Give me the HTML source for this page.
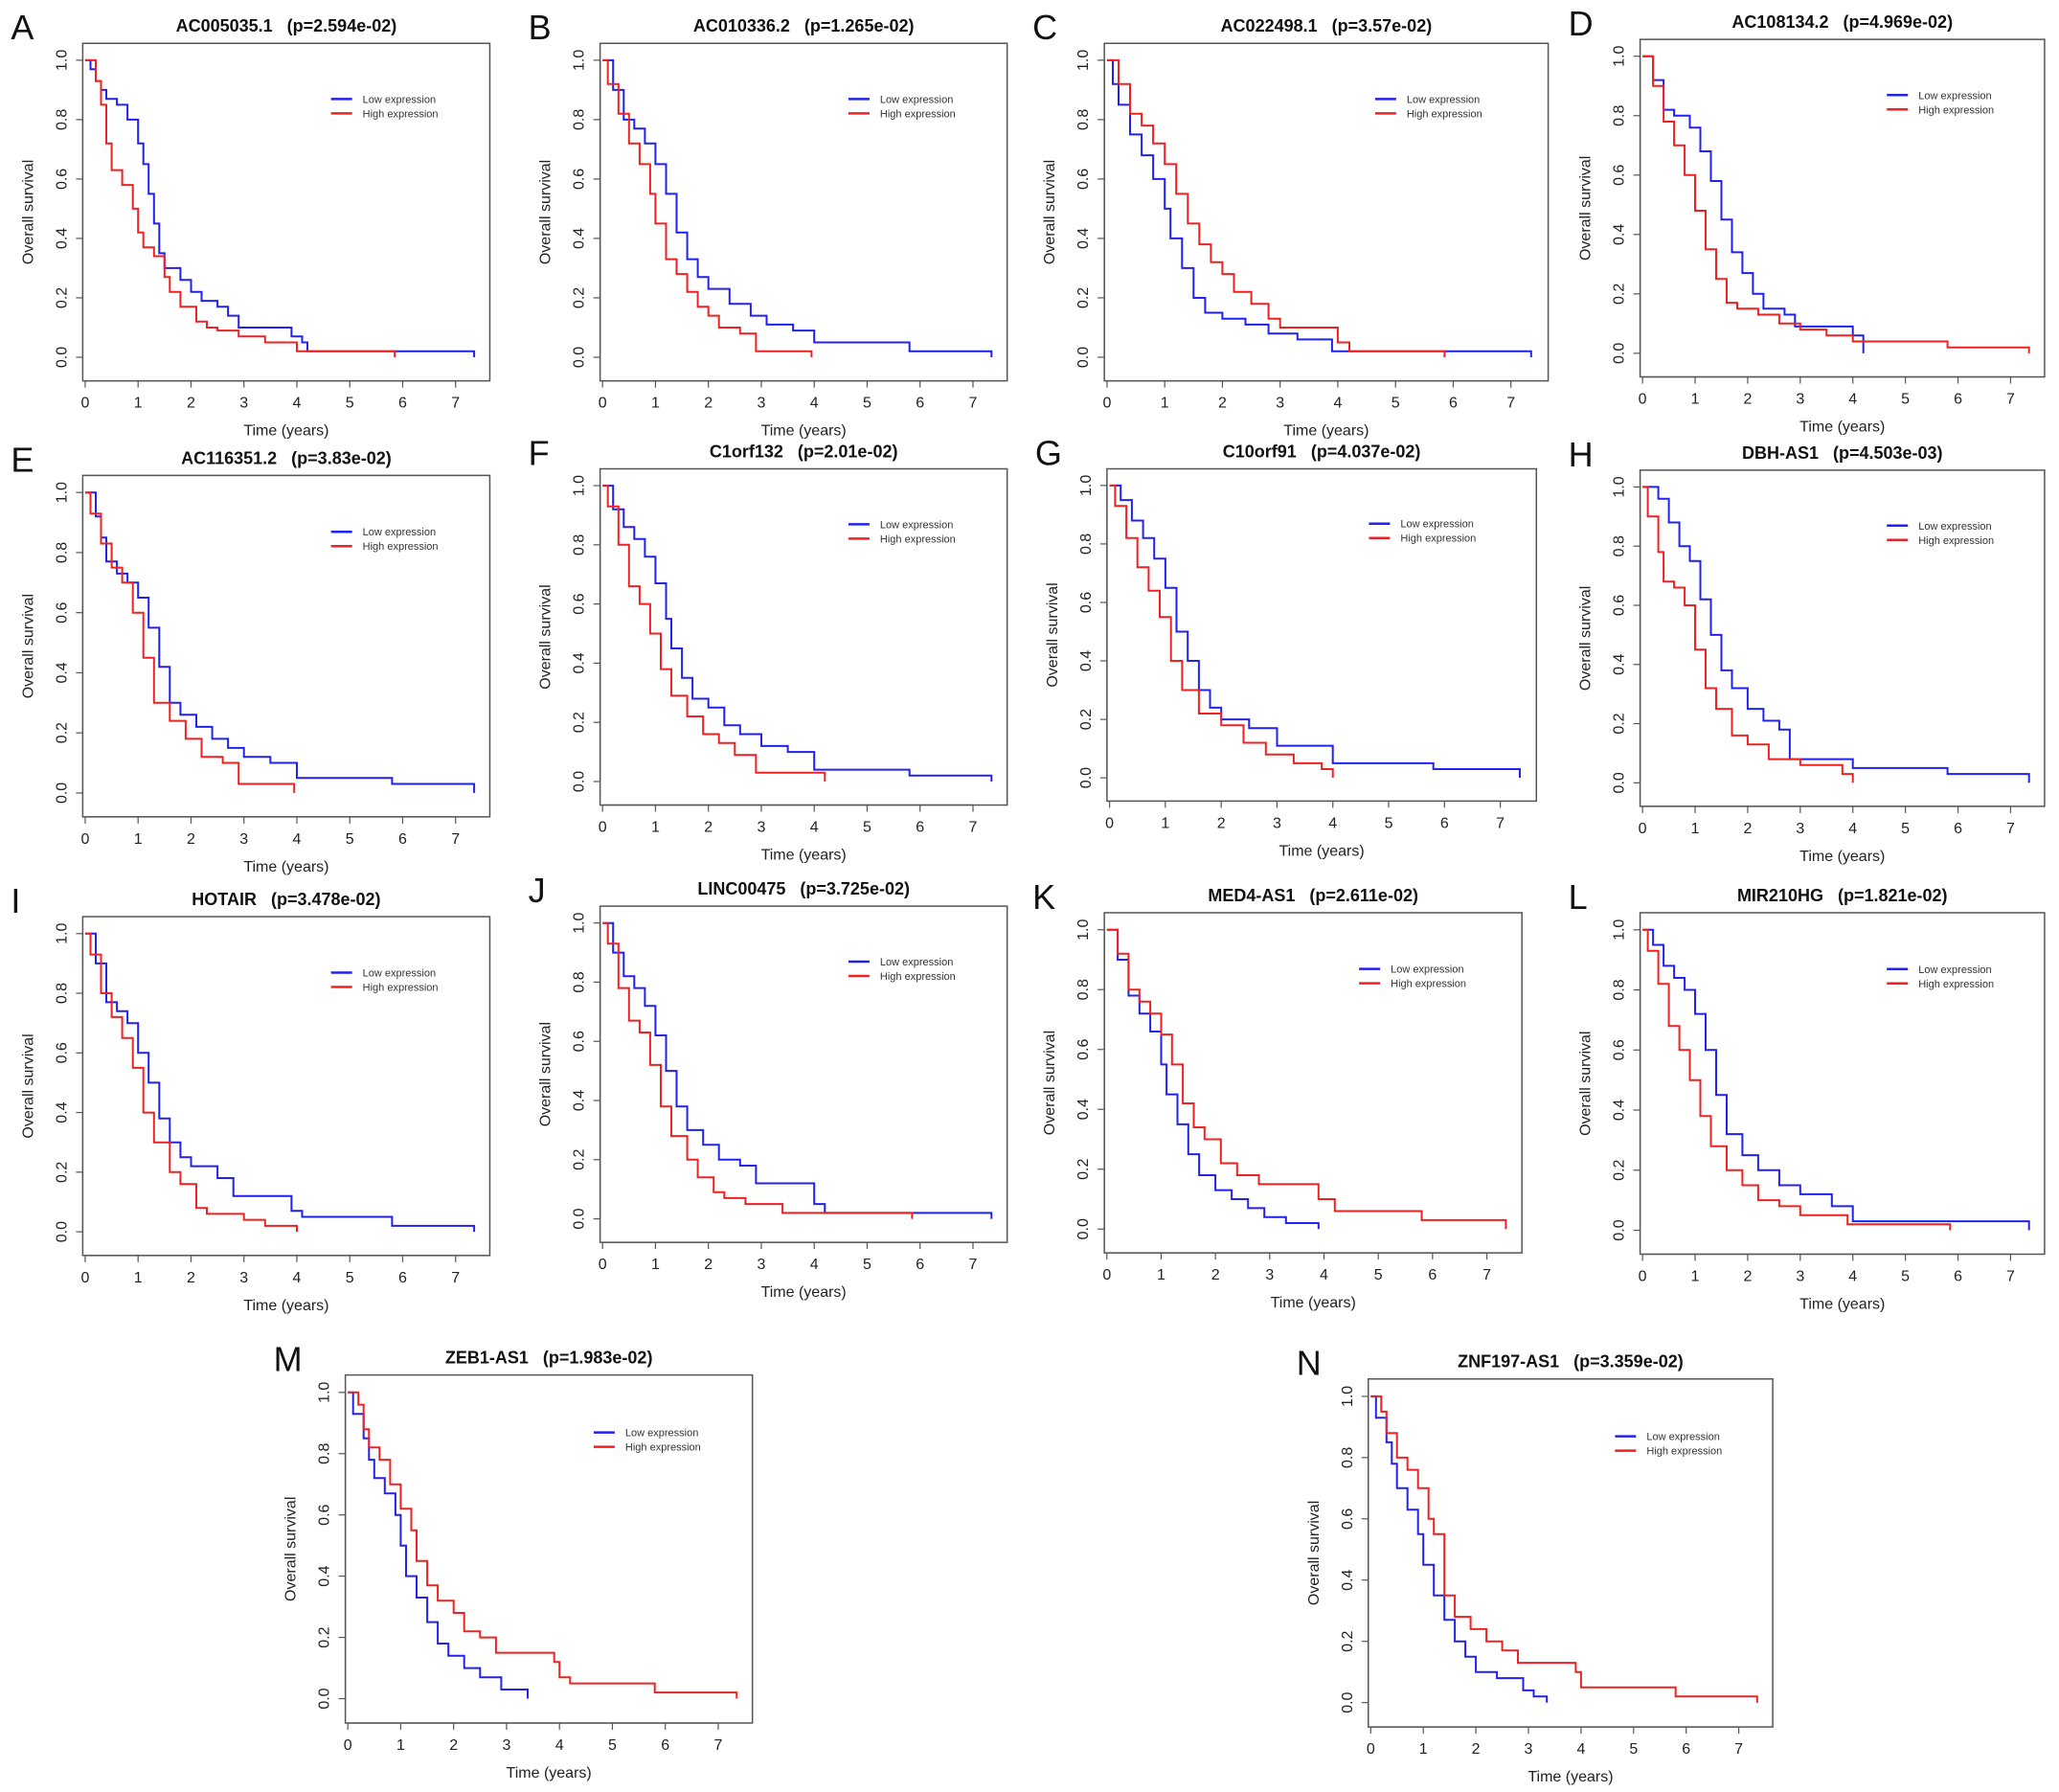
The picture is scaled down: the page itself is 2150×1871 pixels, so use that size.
<!DOCTYPE html>
<html><head><meta charset="utf-8">
<style>
html,body{margin:0;padding:0;background:#fff;}
svg{display:block;font-family:"Liberation Sans",Arial,sans-serif;}
</style></head>
<body>
<svg id="fig" width="2150" height="1871" viewBox="0 0 2150 1871" xmlns="http://www.w3.org/2000/svg"></svg>
<script>
const panelLetters = ["A","B","C","D","E","F","G","H","I","J","K","L","M","N"];
const geneNames = ["AC005035.1","AC010336.2","AC022498.1","AC108134.2","AC116351.2","C1orf132","C10orf91","DBH-AS1","HOTAIR","LINC00475","MED4-AS1","MIR210HG","ZEB1-AS1","ZNF197-AS1"];
const pValues = ["2.594e-02","1.265e-02","3.57e-02","4.969e-02","3.83e-02","2.01e-02","4.037e-02","4.503e-03","3.478e-02","3.725e-02","2.611e-02","1.821e-02","1.983e-02","3.359e-02"];
const xTicks = [0,1,2,3,4,5,6,7];
const yTicks = [0,0.2,0.4,0.6,0.8,1.0];
const yTickLabels = ["0.0","0.2","0.4","0.6","0.8","1.0"];
const lowCurves = [
 [[0,1],[.1,.97],[.2,.93],[.3,.9],[.4,.87],[.6,.85],[.8,.8],[1.0,.72],[1.1,.65],[1.2,.55],[1.3,.45],[1.4,.35],[1.5,.3],[1.8,.26],[2.0,.22],[2.2,.19],[2.5,.17],[2.7,.14],[2.9,.1],[3.9,.07],[4.1,.05],[4.2,.02],[7.35,0]],
 [[0,1],[.2,.9],[.4,.8],[.6,.77],[.8,.72],[1.0,.65],[1.2,.55],[1.4,.42],[1.6,.33],[1.8,.27],[2.0,.23],[2.4,.18],[2.8,.14],[3.1,.11],[3.6,.09],[4.0,.05],[5.8,.02],[7.35,0]],
 [[0,1],[.1,.92],[.2,.85],[.4,.75],[.6,.68],[.8,.6],[1.0,.5],[1.1,.4],[1.3,.3],[1.5,.2],[1.7,.15],[2.0,.13],[2.4,.11],[2.8,.08],[3.3,.06],[3.9,.02],[7.35,0]],
 [[0,1],[.2,.92],[.4,.82],[.6,.8],[.9,.76],[1.1,.68],[1.3,.58],[1.5,.45],[1.7,.34],[1.9,.27],[2.1,.2],[2.3,.15],[2.7,.13],[2.9,.09],[4.0,.06],[4.2,0]],
 [[0,1],[.2,.92],[.3,.85],[.4,.77],[.6,.73],[.8,.7],[1.0,.65],[1.2,.55],[1.4,.42],[1.6,.3],[1.8,.26],[2.1,.22],[2.4,.18],[2.7,.15],[3.0,.12],[3.5,.1],[4.0,.05],[5.8,.03],[7.35,0]],
 [[0,1],[.2,.92],[.4,.86],[.6,.82],[.8,.76],[1.0,.67],[1.2,.55],[1.3,.45],[1.5,.35],[1.7,.28],[2.0,.25],[2.3,.19],[2.6,.16],[3.0,.12],[3.5,.1],[4.0,.04],[5.8,.02],[7.35,0]],
 [[0,1],[.2,.95],[.4,.88],[.6,.82],[.8,.75],[1.0,.65],[1.2,.5],[1.4,.4],[1.6,.3],[1.8,.24],[2.0,.2],[2.5,.17],[3.0,.11],[4.0,.05],[5.8,.03],[7.35,0]],
 [[0,1],[.3,.96],[.5,.88],[.7,.8],[.9,.75],[1.1,.62],[1.3,.5],[1.5,.38],[1.7,.32],[2.0,.25],[2.3,.21],[2.6,.18],[2.8,.08],[4.0,.05],[5.8,.03],[7.35,0]],
 [[0,1],[.2,.9],[.4,.77],[.6,.74],[.8,.7],[1.0,.6],[1.2,.5],[1.4,.38],[1.6,.3],[1.8,.25],[2.0,.22],[2.5,.18],[2.8,.12],[3.9,.07],[4.1,.05],[5.8,.02],[7.35,0]],
 [[0,1],[.2,.9],[.4,.82],[.6,.78],[.8,.72],[1.0,.62],[1.2,.5],[1.4,.38],[1.6,.3],[1.9,.25],[2.2,.2],[2.6,.18],[2.9,.12],[4.0,.05],[4.2,.02],[7.35,0]],
 [[0,1],[.2,.9],[.4,.78],[.6,.72],[.8,.66],[1.0,.55],[1.1,.45],[1.3,.35],[1.5,.25],[1.7,.18],[2.0,.13],[2.3,.1],[2.6,.07],[2.9,.04],[3.3,.02],[3.9,0]],
 [[0,1],[.2,.95],[.4,.88],[.6,.84],[.8,.8],[1.0,.72],[1.2,.6],[1.4,.45],[1.6,.32],[1.9,.25],[2.2,.2],[2.6,.15],[3.0,.12],[3.6,.08],[4.0,.03],[7.35,0]],
 [[0,1],[.1,.93],[.3,.85],[.4,.78],[.5,.72],[.7,.67],[.9,.6],[1.0,.5],[1.1,.4],[1.3,.33],[1.5,.25],[1.7,.18],[1.9,.14],[2.2,.1],[2.5,.07],[2.9,.03],[3.4,0]],
 [[0,1],[.1,.93],[.3,.85],[.4,.78],[.5,.7],[.7,.63],[.9,.55],[1.0,.45],[1.2,.35],[1.4,.27],[1.6,.2],[1.8,.15],[2.0,.1],[2.4,.08],[2.9,.04],[3.1,.02],[3.35,0]]
];
const highCurves = [
 [[0,1],[.2,.93],[.3,.85],[.4,.72],[.5,.63],[.7,.58],[.9,.5],[1.0,.42],[1.1,.37],[1.3,.34],[1.5,.27],[1.6,.22],[1.8,.17],[2.1,.12],[2.3,.1],[2.5,.09],[2.9,.07],[3.4,.05],[4.0,.02],[5.85,0]],
 [[0,1],[.1,.92],[.3,.82],[.5,.72],[.7,.65],[.9,.55],[1.0,.45],[1.2,.33],[1.4,.28],[1.6,.22],[1.8,.17],[2.0,.14],[2.2,.1],[2.6,.08],[2.9,.02],[3.95,0]],
 [[0,1],[.2,.92],[.4,.82],[.6,.78],[.8,.72],[1.0,.65],[1.2,.55],[1.4,.45],[1.6,.38],[1.8,.32],[2.0,.28],[2.2,.22],[2.5,.18],[2.8,.13],[3.0,.1],[4.0,.05],[4.2,.02],[5.85,0]],
 [[0,1],[.2,.9],[.4,.78],[.6,.7],[.8,.6],[1.0,.48],[1.2,.35],[1.4,.25],[1.6,.17],[1.8,.15],[2.2,.13],[2.6,.1],[3.0,.08],[3.5,.06],[4.0,.04],[5.8,.02],[7.35,0]],
 [[0,1],[.1,.93],[.3,.83],[.5,.75],[.7,.7],[.9,.6],[1.1,.45],[1.3,.3],[1.6,.24],[1.9,.18],[2.2,.12],[2.6,.1],[2.9,.03],[3.95,0]],
 [[0,1],[.1,.93],[.3,.8],[.5,.66],[.7,.6],[.9,.5],[1.1,.38],[1.3,.29],[1.6,.22],[1.9,.16],[2.2,.13],[2.5,.09],[2.9,.03],[4.2,0]],
 [[0,1],[.1,.93],[.3,.82],[.5,.72],[.7,.64],[.9,.55],[1.1,.4],[1.3,.3],[1.6,.22],[2.0,.18],[2.4,.12],[2.8,.08],[3.3,.05],[3.8,.03],[4.0,0]],
 [[0,1],[.1,.9],[.3,.78],[.4,.68],[.6,.66],[.8,.6],[1.0,.45],[1.2,.32],[1.4,.25],[1.7,.16],[2.0,.13],[2.4,.08],[3.0,.06],[3.8,.03],[4.0,0]],
 [[0,1],[.1,.93],[.3,.8],[.5,.72],[.7,.65],[.9,.55],[1.1,.4],[1.3,.3],[1.6,.2],[1.8,.16],[2.1,.08],[2.3,.06],[3.0,.04],[3.4,.02],[4.0,0]],
 [[0,1],[.1,.93],[.3,.78],[.5,.67],[.7,.63],[.9,.52],[1.1,.38],[1.3,.28],[1.6,.2],[1.8,.14],[2.1,.09],[2.3,.07],[2.7,.05],[3.4,.02],[5.85,0]],
 [[0,1],[.2,.92],[.4,.8],[.6,.76],[.8,.72],[1.0,.65],[1.2,.55],[1.4,.42],[1.6,.34],[1.8,.3],[2.1,.22],[2.4,.18],[2.8,.15],[3.9,.1],[4.2,.06],[5.8,.03],[7.35,0]],
 [[0,1],[.1,.93],[.3,.82],[.5,.68],[.7,.6],[.9,.5],[1.1,.38],[1.3,.28],[1.6,.2],[1.9,.15],[2.2,.1],[2.6,.08],[3.0,.05],[3.9,.02],[5.85,0]],
 [[0,1],[.2,.96],[.3,.88],[.4,.82],[.6,.78],[.8,.7],[1.0,.62],[1.2,.55],[1.3,.45],[1.5,.37],[1.7,.32],[2.0,.28],[2.2,.22],[2.5,.2],[2.8,.15],[3.9,.12],[4.0,.07],[4.2,.05],[5.8,.02],[7.35,0]],
 [[0,1],[.2,.95],[.3,.88],[.5,.8],[.7,.76],[.9,.7],[1.1,.6],[1.2,.55],[1.4,.35],[1.6,.28],[1.9,.24],[2.2,.2],[2.5,.17],[2.8,.13],[3.9,.1],[4.0,.05],[5.8,.02],[7.35,0]]
];
// layout (display coords, scaled by S)
const S = 2150/1568;
const boxes = [
 [63,33,373,290],[457,33,767,290],[841,33,1179,290],[1249,30,1557,287],
 [63,362,373,622],[457,357,767,613],[843,357,1170,610],[1249,358,1557,614],
 [63,698,373,956],[457,690,767,946],[841,695,1159,954],[1249,695,1557,955],
 [263,1047,573,1312],[1042,1050,1350,1315]
];
const NS="http://www.w3.org/2000/svg";
const svg=document.getElementById('fig');
function mk(tag,attrs,parent,text){const e=document.createElementNS(NS,tag);for(const k in attrs)e.setAttribute(k,attrs[k]);if(text!==undefined)e.textContent=text;parent.appendChild(e);return e;}
function stepPath(curve,xs,ys){let d="M"+xs(curve[0][0]).toFixed(1)+","+ys(curve[0][1]).toFixed(1);
 for(let i=1;i<curve.length;i++){d+=" H"+xs(curve[i][0]).toFixed(1)+" V"+ys(curve[i][1]).toFixed(1);}return d;}
boxes.forEach((b,i)=>{
 const L=b[0]*S,T=b[1]*S,R=b[2]*S,B=b[3]*S,w=R-L,h=B-T;
 const g=mk('g',{},svg);
 
 
 const xs=t=>L+0.006*w+t*0.13*w;
 const ys=v=>T+0.93*h-v*0.88*h;
 const lt=mk('text',{x:L-75,y:T-4,'font-size':36,fill:'#111'},g,panelLetters[i]);
 
 const tt=mk('text',{x:L+w*0.5,y:T-12,'font-size':18,'font-weight':'bold','text-anchor':'middle',fill:'#111'},g,geneNames[i]+"\u00a0\u00a0\u00a0(p="+pValues[i]+")");
 
 const fr=mk('rect',{x:L,y:T,width:w,height:h,fill:'none',stroke:'#555','stroke-width':1.5},g);
 
 // x axis
 const xa=mk('g',{},g);
 mk('line',{x1:xs(0),x2:xs(7),y1:B,y2:B,stroke:'#555','stroke-width':1.2},xa);
 xTicks.forEach(t=>{mk('line',{x1:xs(t),x2:xs(t),y1:B,y2:B+7,stroke:'#555','stroke-width':1.2},xa);
  const tl=mk('text',{x:xs(t),y:B+28,'font-size':16,'text-anchor':'middle',fill:'#222'},xa,String(t));
  });
 const xl=mk('text',{x:L+w*0.5,y:B+57,'font-size':16,'text-anchor':'middle',fill:'#222'},g,'Time (years)');
 
 // y axis
 const ya=mk('g',{},g);
 mk('line',{x1:L,x2:L,y1:ys(0),y2:ys(1),stroke:'#555','stroke-width':1.2},ya);
 yTicks.forEach((v,k)=>{mk('line',{x1:L-7,x2:L,y1:ys(v),y2:ys(v),stroke:'#555','stroke-width':1.2},ya);
  const yl=mk('text',{x:L-17,y:ys(v),'font-size':16,'text-anchor':'middle',fill:'#222',transform:'rotate(-90 '+(L-17)+' '+ys(v)+')'},ya,yTickLabels[k]);
  });
 const yt=mk('text',{x:L-52,y:T+h*0.5,'font-size':16,'text-anchor':'middle',fill:'#222',transform:'rotate(-90 '+(L-52)+' '+(T+h*0.5)+')'},g,'Overall survival');
 
 // curves
 const lp=mk('path',{d:stepPath(lowCurves[i],xs,ys),fill:'none',stroke:'#2222ee','stroke-width':2},g);
 
 const hp=mk('path',{d:stepPath(highCurves[i],xs,ys),fill:'none',stroke:'#ee2222','stroke-width':2},g);
 
 // legend
 const lg=mk('g',{},g);
 const lx=L+0.61*w,ly=T+0.165*h;
 mk('line',{x1:lx,x2:lx+22,y1:ly,y2:ly,stroke:'#2222ee','stroke-width':2.5},lg);
 mk('line',{x1:lx,x2:lx+22,y1:ly+15,y2:ly+15,stroke:'#ee2222','stroke-width':2.5},lg);
 const l1=mk('text',{x:lx+33,y:ly+4,'font-size':11,fill:'#333'},lg,'Low expression');
 
 const l2=mk('text',{x:lx+33,y:ly+19,'font-size':11,fill:'#333'},lg,'High expression');
 
});
</script>
</body></html>
